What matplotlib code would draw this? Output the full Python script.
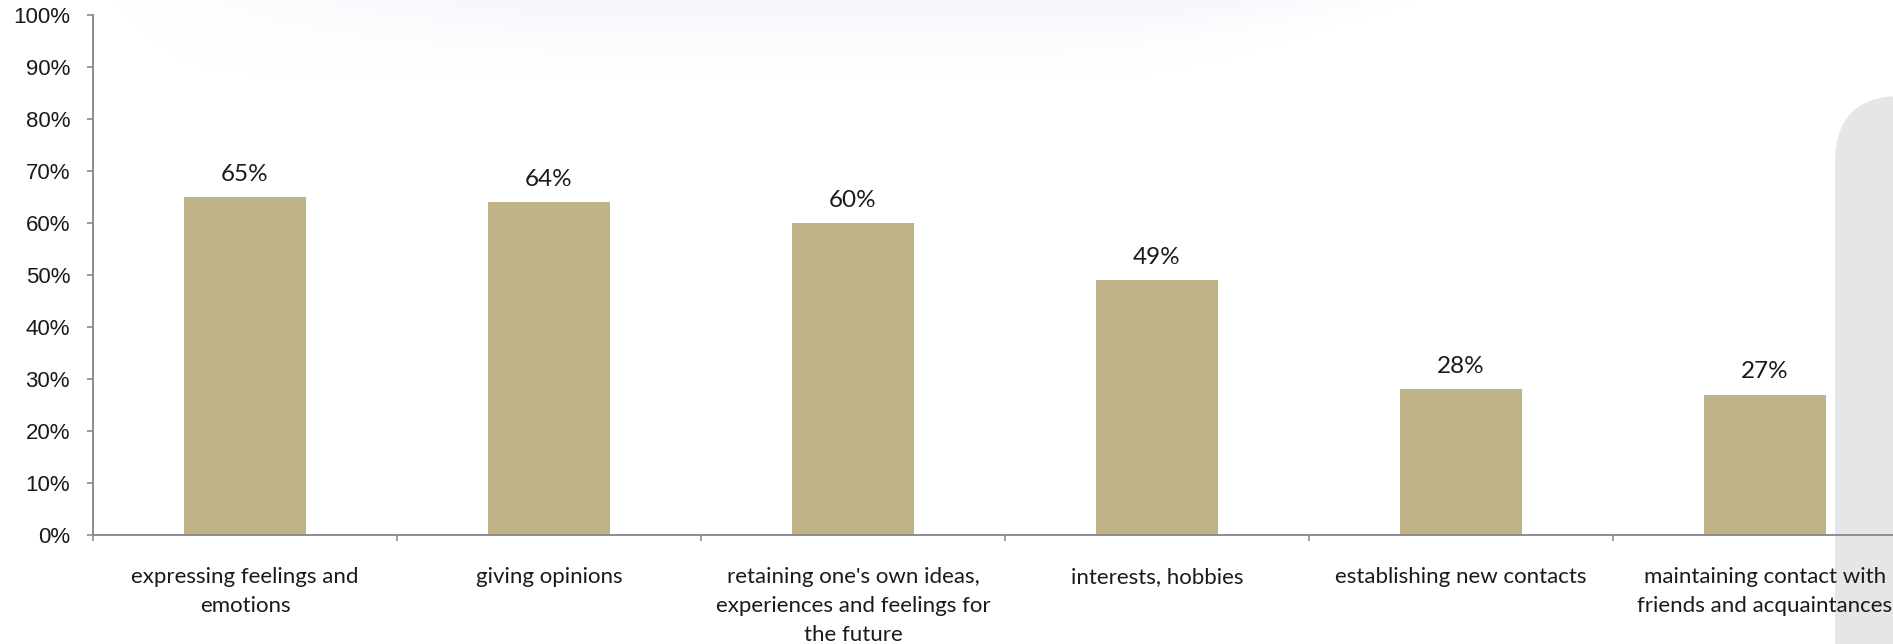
import numpy as np
import matplotlib
matplotlib.use("Agg")
import matplotlib.pyplot as plt
from matplotlib.patches import FancyBboxPatch
from matplotlib.ticker import FixedLocator, NullFormatter

# Survey: what people use the medium for (share of respondents)
categories = [
    "expressing feelings and\nemotions",
    "giving opinions",
    "retaining one's own ideas,\nexperiences and feelings for\nthe future",
    "interests, hobbies",
    "establishing new contacts",
    "maintaining contact with\nfriends and acquaintances",
]
values = [65, 64, 60, 49, 28, 27]
value_labels = ["65%", "64%", "60%", "49%", "28%", "27%"]
y_ticks = [0, 10, 20, 30, 40, 50, 60, 70, 80, 90, 100]
y_tick_labels = ["0%", "10%", "20%", "30%", "40%", "50%", "60%", "70%", "80%", "90%", "100%"]

W, H, DPI = 1893, 644, 100
BAR_COLOR = "#BEB388"
AXIS_COLOR = "#8C8C8C"
LABEL_FONT = ["Lato", "DejaVu Sans"]
TICK_FONT = ["Liberation Sans", "DejaVu Sans"]

fig = plt.figure(figsize=(W / DPI, H / DPI), dpi=DPI)
fig.patch.set_facecolor("white")

# faint lavender swoosh along the top edge
ny, nx = 90, 600
yy, xx = np.mgrid[0:ny, 0:nx]
px = xx / nx * W
py = yy / ny * 90.0
right_edge = 1420 - py * 3.2
left_edge = 110 + py * 0.8
horiz = np.clip((px - left_edge) / 400.0, 0, 1) * np.clip((right_edge - px) / 200.0, 0, 1)
vert = np.clip(1 - py / 85.0, 0, 1) ** 1.5
alpha = 0.35 * horiz * vert
rgba = np.zeros((ny, nx, 4))
rgba[..., 0] = 228 / 255
rgba[..., 1] = 232 / 255
rgba[..., 2] = 248 / 255
rgba[..., 3] = alpha
bg = fig.add_axes([0, 1 - 90 / H, 1, 90 / H], zorder=-3)
bg.imshow(rgba, aspect="auto", extent=[0, 1, 0, 1], interpolation="bilinear")
bg.axis("off")

# grey rounded side panel on the right
panel = FancyBboxPatch(
    (1835 / W, -60 / H), 200 / W, (644 - 96 + 60) / H,
    boxstyle="round,pad=0,rounding_size=0.035",
    transform=fig.transFigure, facecolor="#E6E6E6", edgecolor="none",
    zorder=-2, mutation_aspect=W / H,
)
fig.patches.append(panel)

ax = fig.add_axes([93 / W, 109 / H, 1824 / W, 520 / H], zorder=1)
ax.patch.set_alpha(0)

x = np.arange(len(categories))
bars = ax.bar(x, values, width=0.4, color=BAR_COLOR, edgecolor="none", zorder=2)

for xi, v, lab in zip(x, values, value_labels):
    ax.annotate(lab, (xi, v), xytext=(0, 16.5), textcoords="offset points",
                ha="center", va="center", fontsize=17.5, family=LABEL_FONT,
                color="#1A1A1A")

ax.set_xlim(-0.5, len(categories) - 0.5)
ax.set_ylim(0, 100)

ax.set_yticks(y_ticks)
ax.set_yticklabels(y_tick_labels, family=TICK_FONT, fontsize=16, color="#1A1A1A")
ax.tick_params(axis="y", direction="out", length=4.5, width=1.2,
               color=AXIS_COLOR, pad=12)

# boundary ticks below the axis, labels centred under each bar
ax.xaxis.set_major_locator(FixedLocator(np.arange(-0.5, len(categories), 1.0)))
ax.xaxis.set_major_formatter(NullFormatter())
ax.xaxis.set_minor_locator(FixedLocator(x))
ax.set_xticks(x, minor=True)
ax.set_xticklabels(categories, minor=True, family=LABEL_FONT, fontsize=16,
                   color="#1A1A1A", linespacing=1.55)
ax.tick_params(axis="x", which="major", direction="out", length=4.5, width=1.2,
               color=AXIS_COLOR)
ax.tick_params(axis="x", which="minor", length=0, pad=23)

for side in ("top", "right"):
    ax.spines[side].set_visible(False)
for side in ("left", "bottom"):
    ax.spines[side].set_color(AXIS_COLOR)
    ax.spines[side].set_linewidth(1.4)

fig.savefig("out.png", dpi=DPI)
